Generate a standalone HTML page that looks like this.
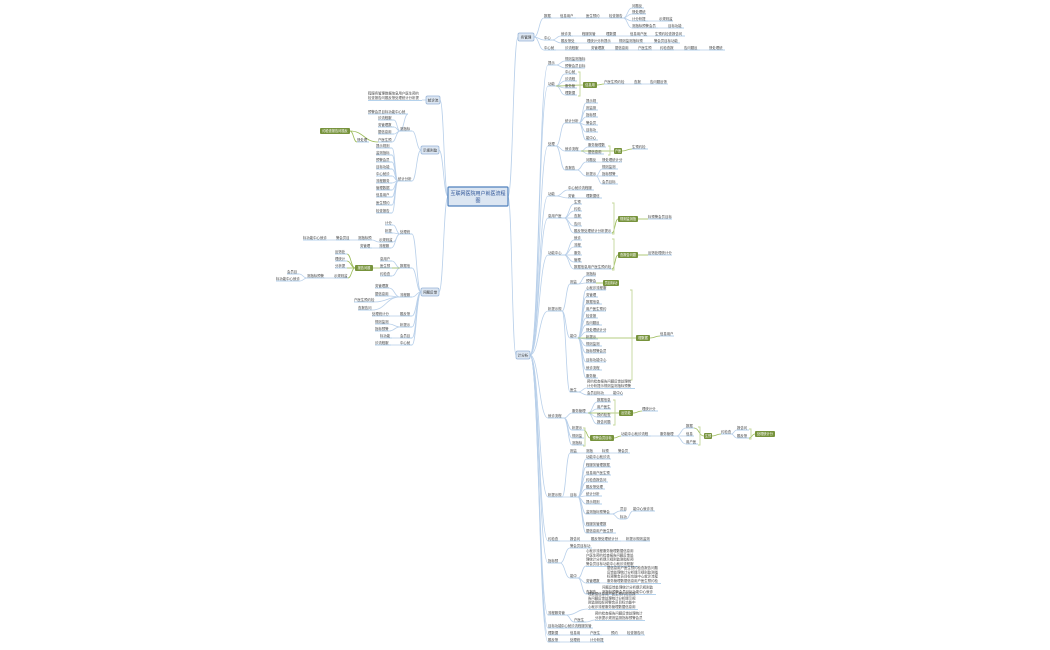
<!DOCTYPE html>
<html><head><meta charset="utf-8">
<style>
html,body{margin:0;padding:0;background:#fff;}
svg{display:block}
text{font-family:"Liberation Sans","Noto Sans CJK SC",sans-serif;}
</style></head>
<body>
<svg id="s" width="1050" height="650" viewBox="0 0 1050 650" xmlns="http://www.w3.org/2000/svg"></svg>
<script>
const S="就诊流程服务管理数据信息用户医生预约检查报告问题反馈处理统计分析提示规则监测指标预警会员目标功能中心";
let k=0;function T(w){let n=Math.max(2,Math.round(w/3.6));let s="";for(let i=0;i<n;i++){s+=S[(k++)%S.length];}return s;}
const N=[];
function n(p,x,y,w,ty,lines){N.push({p,x,y,w,ty:ty||'u',lines:lines||1});return N.length-1;}
const B=[];
const C=n(-1,448,196.5,60,'c');
const L1=n(C,426,100,14,'b');
n(L1,368,100,54,'t',2);
const L2=n(C,421,150,18,'b');
const f1=n(L2,400,131,12);
n(f1,368,114,40);
[120,127,134].forEach(y=>n(f1,378,y,16));
const f5=n(f1,378,142,14);
const fg=n(f5,320,131,30,'g');
n(fg,357,142,12);
const f2=n(L2,398,181,14);
[148,155,162,169,176,183,190,197,205,213].forEach(y=>n(f2,376,y,16));
const L3=n(C,421,292,18,'b');
const p1=n(L3,400,234,12);
n(p1,385,225,8);n(p1,385,233,8);
const p13=n(p1,379,242,14);const p14=n(p13,358,240,14);const p15=n(p14,336,240,14);n(p15,303,240,24);
const p16=n(p1,379,248,12);n(p16,360,248,12);
const p2=n(L3,400,268,12);
[261,268,276].forEach(y=>n(p2,380,y,12));
const pg=n(p2,355,268,18,'g');
const a1=n(pg,335,254,12);n(pg,335,261,12);n(pg,335,268,12);
const a4=n(pg,334,278,14);const a5=n(a4,307,278,18);n(a5,287,274,12);n(a5,276,281,24);
const p3=n(L3,400,297,12);
n(p3,375,288,14);n(p3,375,296,14);const p33=n(p3,354,302,20);n(p3,358,310,14);
const p4=n(L3,400,316,12);n(p4,372,316,18);
const p5=n(L3,400,327,12);n(p5,375,324,14);n(p5,375,331,14);
const p6=n(L3,400,338,12);n(p6,380,338,12);
const p7=n(L3,400,345,12);n(p7,375,345,16);
const R1=n(C,518,37,16,'b');
const r1=n(R1,544,18,8);
let q=n(r1,560,18,16);q=n(q,586,18,14);q=n(q,609,18,14);
n(q,632,8,12);n(q,632,14,14);let q3=n(q,632,21,16);n(q3,659,21,14);
let q4=n(q,632,28,26);n(q4,668,28,16);
const r2=n(R1,544,40,8);
q=n(r2,561,36,12);q=n(q,582,36,14);q=n(q,606,36,10);q=n(q,630,36,18);n(q,655,36,30);
q=n(r2,561,43,16);q=n(q,587,43,24);q=n(q,619,43,26);n(q,654,43,26);
const r3=n(R1,544,50,12);
q=n(r3,565,50,14);q=n(q,591,50,14);q=n(q,615,50,14);q=n(q,638,50,14);q=n(q,660,50,14);q=n(q,684,50,16);n(q,709,50,16);
const R2=n(C,516,355,14,'b');
let A=n(R2,548,65,8);n(A,565,61,20);n(A,565,68,20);
let Bn=n(R2,548,86,8);[74,81,88,95].forEach(y=>n(Bn,565,y,12));
let bg=n(Bn,583,85,14,'g');B.push([580,72,96]);q=n(bg,604,84,20);q=n(q,634,84,8);n(q,650,84,18);
let Cn=n(R2,548,146,8);
let c1=n(Cn,565,123,14);[103,110,117,125,132,140].forEach(y=>n(c1,586,y,12));
let c2=n(Cn,565,151,16);n(c2,588,147,18);n(c2,588,154,16);let cg=n(c2,614,151,8,'g');B.push([610,146,155]);n(cg,632,149,16);
let c3=n(Cn,565,170,12);let c31=n(c3,586,162,10);n(c31,602,162,20);let c32=n(c3,586,176,10);n(c32,602,169,16);n(c32,602,176,16);n(c32,602,184,16);
let D=n(R2,548,196,8);n(D,568,190,26);let d2=n(D,568,198,8);n(d2,586,198,16);
let E=n(R2,548,218,16);[204,211,218,226].forEach(y=>n(E,574,y,8));let e5=n(E,574,233,38);
let eg=n(e5,618,219,20,'g');B.push([614,203,234]);n(eg,648,219,24);
let F=n(R2,548,255,16);[240,247,255,262].forEach(y=>n(F,574,y,8));let f9=n(F,574,269,38);
let fgg=n(f9,618,255,20,'g');B.push([614,239,270]);n(fgg,648,255,24);
let G=n(R2,548,311,14);
let g1=n(G,570,284,8);n(g1,586,276,10);let g12=n(g1,586,283,10);n(g12,603,283,16,'g');
let g2=n(G,570,338,8);
[290,297,304,311,318,325,332,339,346,353,362,370,378].forEach(y=>n(g2,586,y,12+(y%3)*4));
let gg=n(g2,636,338,14,'g');B.push([632,290,380]);n(gg,660,336,14);
let g3=n(G,570,392,8);n(g3,587,388,48,'t',2);let g32=n(g3,587,395,18);n(g32,613,395,10);
let H=n(R2,548,418,16);
let h1=n(H,572,413,16);[402,409,417,424].forEach(y=>n(h1,597,y,14));let hg=n(h1,619,413,14,'g');B.push([615,400,425]);n(hg,642,411,16);
let h2=n(H,572,430,12);n(H,572,438,12);n(H,572,445,12);
let ig=n(h2,590,438,24,'g');B.push([585,428,446]);
q=n(ig,621,436,30);q=n(q,660,436,16);
let i1=n(q,686,428,8);n(q,686,436,8);n(q,686,444,12);
let ig2=n(i1,704,436,8,'g');B.push([700,427,445]);q=n(ig2,721,434,10);n(q,737,430,12);let i3=n(q,737,438,12);n(i3,755,434,20,'g');B.push([751,429,439]);
let J=n(R2,548,497,14);
let j1=n(J,570,453,8);q=n(j1,586,453,8);q=n(q,602,453,8);n(q,618,453,12);
let j2=n(J,570,497,8);
[459,467,475,482,489,496,504].forEach(y=>n(j2,586,y,16+(y%4)*3));
let j3=n(j2,586,514,26);n(j3,620,511,6);let j31=n(j3,620,519,6);n(j31,633,511,22);
n(j2,586,526,20);n(j2,586,533,30);
let K=n(R2,548,541,12);q=n(K,570,541,10);q=n(q,591,541,30);n(q,626,541,24);
let Lr=n(R2,548,563,12);n(Lr,570,548,22);let l2=n(Lr,570,578,8);
n(l2,586,566,52,'t',4);
let l3=n(l2,586,583,14);n(l3,607,583,54,'t',4);
let l4=n(l2,586,594,10);n(l4,602,594,54,'t',2);
let M=n(R2,548,615,18);n(M,588,609,50,'t',4);let m2=n(M,574,622,12);n(m2,595,620,50,'t',2);
let O=n(R2,548,628,16);n(O,561,628,32);
let P=n(R2,548,635,12);q=n(P,570,635,10);q=n(q,590,635,12);q=n(q,611,635,8);n(q,627,635,18);
let Q=n(R2,548,642,12);q=n(Q,570,642,10);n(q,590,642,14);

let out="";
function anchorR(o){return [o.x+o.w, o.y];}
function anchorL(o){return [o.x, o.y];}
N.forEach((o,i)=>{ if(o.p<0)return; const p=N[o.p];
  let a,b; if(o.x>=p.x){a=anchorR(p);b=anchorL(o);}else{a=anchorL(p);b=anchorR(o);}
  const mx=(a[0]+b[0])/2;
  const col=(p.ty=='g'||o.ty=='g')?'#9bbb59':'#b9d0ea';
  out+=`<path d="M${a[0]},${a[1]} C${mx},${a[1]} ${mx},${b[1]} ${b[0]},${b[1]}" fill="none" stroke="${col}" stroke-width="0.8"/>`;
});
B.forEach(b=>{out+=`<path d="M${b[0]-2},${b[1]} H${b[0]} V${b[2]} H${b[0]-2}" fill="none" stroke="#c4d79b" stroke-width="0.9"/>`;});
N.forEach(o=>{
  if(o.ty=='c'){out+=`<rect x="${o.x}" y="${o.y-9.5}" width="${o.w}" height="19" fill="#dce6f2" stroke="#4f81bd" stroke-width="1.2" rx="1"/><text x="${o.x+o.w/2}" y="${o.y-1.5}" font-size="5" fill="#2f5597" text-anchor="middle">互联网医院用户就医流程</text><text x="${o.x+o.w/2}" y="${o.y+5.5}" font-size="5" fill="#2f5597" text-anchor="middle">图</text>`;}
  else if(o.ty=='b'){out+=`<rect x="${o.x}" y="${o.y-4}" width="${o.w}" height="8" fill="#dce6f2" stroke="#95b3d7" stroke-width="0.7" rx="1.5"/><text x="${o.x+o.w/2}" y="${o.y+1.3}" font-size="3.6" fill="#333" text-anchor="middle">${T(o.w-4)}</text>`;}
  else if(o.ty=='g'){out+=`<rect x="${o.x}" y="${o.y-3}" width="${o.w}" height="6" fill="#77933c" rx="1"/><text x="${o.x+o.w/2}" y="${o.y+1.2}" font-size="3.2" fill="#fff" text-anchor="middle">${T(o.w-2)}</text>`;}
  else if(o.ty=='t'){let y0=o.y-o.lines*4.2;for(let i=0;i<o.lines;i++){out+=`<text x="${o.x}" y="${y0+i*4.2+3}" font-size="3.4" fill="#444">${T(o.w)}</text>`;}out+=`<line x1="${o.x}" y1="${o.y+0.5}" x2="${o.x+o.w}" y2="${o.y+0.5}" stroke="#9dc3e6" stroke-width="0.8"/>`;}
  else {out+=`<text x="${o.x}" y="${o.y-1}" font-size="3.4" fill="#444">${T(o.w)}</text><line x1="${o.x}" y1="${o.y}" x2="${o.x+o.w}" y2="${o.y}" stroke="#9dc3e6" stroke-width="0.8"/>`;}
});
document.getElementById('s').innerHTML=out;
</script>
</body></html>
